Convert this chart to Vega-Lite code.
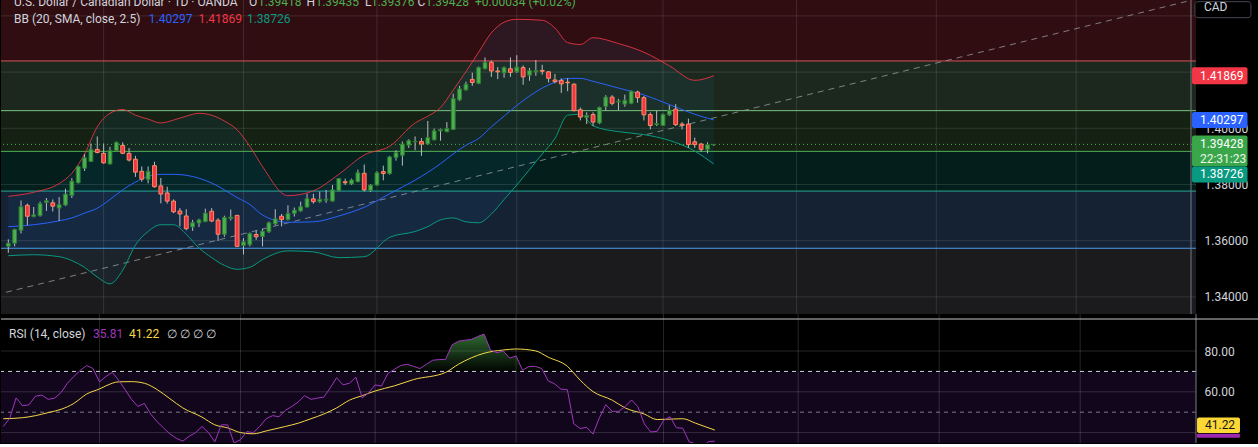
{
  "$schema": "https://vega.github.io/schema/vega-lite/v6.json",
  "background": "#000000",
  "padding": {"top": -5, "left": 0, "right": 0, "bottom": 0},
  "data": {"values": [{}]},
  "datasets": {
    "candles": [
      {"i":0,"o":1.3580,"h":1.3605,"l":1.3557,"c":1.3591,"rsi":43},
      {"i":1,"o":1.3591,"h":1.3643,"l":1.3580,"c":1.3640,"rsi":47},
      {"i":2,"o":1.3637,"h":1.3743,"l":1.3626,"c":1.3721,"rsi":57},
      {"i":3,"o":1.3726,"h":1.3732,"l":1.3655,"c":1.3687,"rsi":53.2},
      {"i":4,"o":1.3686,"h":1.3720,"l":1.3683,"c":1.3692,"rsi":53.6},
      {"i":5,"o":1.3689,"h":1.3739,"l":1.3686,"c":1.3732,"rsi":57.8},
      {"i":6,"o":1.3736,"h":1.3752,"l":1.3706,"c":1.3742,"rsi":58.4},
      {"i":7,"o":1.3735,"h":1.3747,"l":1.3704,"c":1.3723,"rsi":56.3},
      {"i":8,"o":1.3716,"h":1.3755,"l":1.3670,"c":1.3729,"rsi":56.9},
      {"i":9,"o":1.3727,"h":1.3785,"l":1.3723,"c":1.3766,"rsi":59.6},
      {"i":10,"o":1.3761,"h":1.3823,"l":1.3752,"c":1.3812,"rsi":64.2},
      {"i":11,"o":1.3806,"h":1.3867,"l":1.3804,"c":1.3864,"rsi":67.5},
      {"i":12,"o":1.3858,"h":1.3908,"l":1.3848,"c":1.3895,"rsi":70.5},
      {"i":13,"o":1.3882,"h":1.3946,"l":1.3881,"c":1.3925,"rsi":72.9},
      {"i":14,"o":1.3925,"h":1.3971,"l":1.3911,"c":1.3914,"rsi":71.4},
      {"i":15,"o":1.3911,"h":1.3946,"l":1.3875,"c":1.3877,"rsi":64.9},
      {"i":16,"o":1.3873,"h":1.3934,"l":1.3872,"c":1.3921,"rsi":67.5},
      {"i":17,"o":1.3921,"h":1.3953,"l":1.3919,"c":1.3950,"rsi":69.5},
      {"i":18,"o":1.3939,"h":1.3950,"l":1.3908,"c":1.3911,"rsi":65.7},
      {"i":19,"o":1.3911,"h":1.3930,"l":1.3882,"c":1.3887,"rsi":61.1},
      {"i":20,"o":1.3890,"h":1.3902,"l":1.3827,"c":1.3844,"rsi":56.3},
      {"i":21,"o":1.3847,"h":1.3864,"l":1.3810,"c":1.3819,"rsi":52.8},
      {"i":22,"o":1.3818,"h":1.3864,"l":1.3804,"c":1.3847,"rsi":54.3},
      {"i":23,"o":1.3867,"h":1.3881,"l":1.3789,"c":1.3792,"rsi":49.1},
      {"i":24,"o":1.3795,"h":1.3823,"l":1.3733,"c":1.3766,"rsi":45.3},
      {"i":25,"o":1.3770,"h":1.3792,"l":1.3732,"c":1.3741,"rsi":42.3},
      {"i":26,"o":1.3741,"h":1.3747,"l":1.3698,"c":1.3703,"rsi":39.3},
      {"i":27,"o":1.3706,"h":1.3716,"l":1.3651,"c":1.3695,"rsi":37.2},
      {"i":28,"o":1.3688,"h":1.3712,"l":1.3637,"c":1.3643,"rsi":35.8},
      {"i":29,"o":1.3649,"h":1.3674,"l":1.3635,"c":1.3664,"rsi":38.2},
      {"i":30,"o":1.3663,"h":1.3678,"l":1.3649,"c":1.3674,"rsi":40},
      {"i":31,"o":1.3668,"h":1.3714,"l":1.3666,"c":1.3698,"rsi":43},
      {"i":32,"o":1.3705,"h":1.3716,"l":1.3666,"c":1.3670,"rsi":40},
      {"i":33,"o":1.3673,"h":1.3680,"l":1.3599,"c":1.3623,"rsi":35.5},
      {"i":34,"o":1.3623,"h":1.3689,"l":1.3614,"c":1.3683,"rsi":43.8},
      {"i":35,"o":1.3679,"h":1.3711,"l":1.3672,"c":1.3684,"rsi":43.8},
      {"i":36,"o":1.3690,"h":1.3692,"l":1.3578,"c":1.3580,"rsi":35},
      {"i":37,"o":1.3583,"h":1.3609,"l":1.3551,"c":1.3596,"rsi":36.5},
      {"i":38,"o":1.3586,"h":1.3629,"l":1.3580,"c":1.3626,"rsi":40.5},
      {"i":39,"o":1.3622,"h":1.3637,"l":1.3603,"c":1.3614,"rsi":40},
      {"i":40,"o":1.3615,"h":1.3643,"l":1.3580,"c":1.3634,"rsi":43},
      {"i":41,"o":1.3632,"h":1.3668,"l":1.3628,"c":1.3664,"rsi":46.8},
      {"i":42,"o":1.3660,"h":1.3712,"l":1.3655,"c":1.3678,"rsi":48.3},
      {"i":43,"o":1.3687,"h":1.3695,"l":1.3651,"c":1.3675,"rsi":47.8},
      {"i":44,"o":1.3675,"h":1.3726,"l":1.3672,"c":1.3697,"rsi":50.9},
      {"i":45,"o":1.3697,"h":1.3718,"l":1.3686,"c":1.3709,"rsi":52.8},
      {"i":46,"o":1.3706,"h":1.3739,"l":1.3703,"c":1.3721,"rsi":55},
      {"i":47,"o":1.3720,"h":1.3767,"l":1.3718,"c":1.3750,"rsi":58.1},
      {"i":48,"o":1.3749,"h":1.3767,"l":1.3732,"c":1.3739,"rsi":56.3},
      {"i":49,"o":1.3739,"h":1.3775,"l":1.3735,"c":1.3747,"rsi":56.9},
      {"i":50,"o":1.3744,"h":1.3781,"l":1.3735,"c":1.3748,"rsi":57.4},
      {"i":51,"o":1.3741,"h":1.3798,"l":1.3739,"c":1.3781,"rsi":61.9},
      {"i":52,"o":1.3778,"h":1.3823,"l":1.3775,"c":1.3821,"rsi":66.9},
      {"i":53,"o":1.3810,"h":1.3821,"l":1.3798,"c":1.3806,"rsi":63.4},
      {"i":54,"o":1.3802,"h":1.3821,"l":1.3798,"c":1.3816,"rsi":64.2},
      {"i":55,"o":1.3810,"h":1.3853,"l":1.3808,"c":1.3842,"rsi":67.2},
      {"i":56,"o":1.3840,"h":1.3871,"l":1.3775,"c":1.3781,"rsi":57},
      {"i":57,"o":1.3779,"h":1.3801,"l":1.3773,"c":1.3798,"rsi":59.6},
      {"i":58,"o":1.3798,"h":1.3847,"l":1.3796,"c":1.3842,"rsi":63.4},
      {"i":59,"o":1.3846,"h":1.3867,"l":1.3815,"c":1.3839,"rsi":62.8},
      {"i":60,"o":1.3839,"h":1.3902,"l":1.3835,"c":1.3898,"rsi":69},
      {"i":61,"o":1.3896,"h":1.3922,"l":1.3885,"c":1.3913,"rsi":71},
      {"i":62,"o":1.3904,"h":1.3953,"l":1.3867,"c":1.3944,"rsi":72.9},
      {"i":63,"o":1.3940,"h":1.3961,"l":1.3930,"c":1.3956,"rsi":73.5},
      {"i":64,"o":1.3952,"h":1.3971,"l":1.3922,"c":1.3954,"rsi":72.5},
      {"i":65,"o":1.3953,"h":1.3965,"l":1.3902,"c":1.3944,"rsi":71.4},
      {"i":66,"o":1.3944,"h":1.4026,"l":1.3942,"c":1.3967,"rsi":73.5},
      {"i":67,"o":1.3959,"h":1.3999,"l":1.3957,"c":1.3991,"rsi":75.5},
      {"i":68,"o":1.3991,"h":1.3999,"l":1.3956,"c":1.3996,"rsi":75.8},
      {"i":69,"o":1.3988,"h":1.4022,"l":1.3986,"c":1.3999,"rsi":75.9},
      {"i":70,"o":1.3996,"h":1.4123,"l":1.3994,"c":1.4106,"rsi":83},
      {"i":71,"o":1.4101,"h":1.4151,"l":1.4097,"c":1.4140,"rsi":84.8},
      {"i":72,"o":1.4137,"h":1.4166,"l":1.4134,"c":1.4157,"rsi":85.3},
      {"i":73,"o":1.4174,"h":1.4198,"l":1.4151,"c":1.4163,"rsi":85.6},
      {"i":74,"o":1.4160,"h":1.4220,"l":1.4157,"c":1.4216,"rsi":87.1},
      {"i":75,"o":1.4212,"h":1.4252,"l":1.4210,"c":1.4235,"rsi":88.3},
      {"i":76,"o":1.4235,"h":1.4241,"l":1.4183,"c":1.4204,"rsi":80.5},
      {"i":77,"o":1.4204,"h":1.4218,"l":1.4175,"c":1.4201,"rsi":79.2},
      {"i":78,"o":1.4197,"h":1.4220,"l":1.4180,"c":1.4216,"rsi":80},
      {"i":79,"o":1.4212,"h":1.4252,"l":1.4183,"c":1.4199,"rsi":76.5},
      {"i":80,"o":1.4201,"h":1.4260,"l":1.4197,"c":1.4218,"rsi":77.6},
      {"i":81,"o":1.4216,"h":1.4224,"l":1.4155,"c":1.4183,"rsi":70.6},
      {"i":82,"o":1.4189,"h":1.4215,"l":1.4169,"c":1.4206,"rsi":72.4},
      {"i":83,"o":1.4201,"h":1.4243,"l":1.4187,"c":1.4206,"rsi":72.5},
      {"i":84,"o":1.4206,"h":1.4226,"l":1.4191,"c":1.4203,"rsi":71.4},
      {"i":85,"o":1.4201,"h":1.4204,"l":1.4163,"c":1.4178,"rsi":65.4},
      {"i":86,"o":1.4172,"h":1.4193,"l":1.4160,"c":1.4166,"rsi":63.9},
      {"i":87,"o":1.4170,"h":1.4178,"l":1.4126,"c":1.4158,"rsi":61.3},
      {"i":88,"o":1.4164,"h":1.4178,"l":1.4132,"c":1.4162,"rsi":61},
      {"i":89,"o":1.4157,"h":1.4160,"l":1.4060,"c":1.4063,"rsi":44.3},
      {"i":90,"o":1.4066,"h":1.4074,"l":1.4028,"c":1.4040,"rsi":42},
      {"i":91,"o":1.4039,"h":1.4057,"l":1.4015,"c":1.4046,"rsi":42.6},
      {"i":92,"o":1.4049,"h":1.4057,"l":1.4008,"c":1.4022,"rsi":39.3},
      {"i":93,"o":1.4019,"h":1.4077,"l":1.4015,"c":1.4074,"rsi":47.3},
      {"i":94,"o":1.4078,"h":1.4118,"l":1.4063,"c":1.4111,"rsi":53.7},
      {"i":95,"o":1.4111,"h":1.4118,"l":1.4082,"c":1.4089,"rsi":50.4},
      {"i":96,"o":1.4094,"h":1.4105,"l":1.4065,"c":1.4097,"rsi":50.4},
      {"i":97,"o":1.4086,"h":1.4120,"l":1.4077,"c":1.4100,"rsi":52.7},
      {"i":98,"o":1.4089,"h":1.4134,"l":1.4086,"c":1.4132,"rsi":56},
      {"i":99,"o":1.4129,"h":1.4134,"l":1.4091,"c":1.4109,"rsi":52.7},
      {"i":100,"o":1.4109,"h":1.4115,"l":1.4028,"c":1.4048,"rsi":44.3},
      {"i":101,"o":1.4049,"h":1.4057,"l":1.3996,"c":1.4010,"rsi":40.3},
      {"i":102,"o":1.4013,"h":1.4063,"l":1.4008,"c":1.4017,"rsi":40.6},
      {"i":103,"o":1.4010,"h":1.4053,"l":1.4008,"c":1.4049,"rsi":45.9},
      {"i":104,"o":1.4048,"h":1.4082,"l":1.4044,"c":1.4065,"rsi":47.8},
      {"i":105,"o":1.4068,"h":1.4086,"l":1.4008,"c":1.4013,"rsi":42.4},
      {"i":106,"o":1.4015,"h":1.4022,"l":1.3996,"c":1.4011,"rsi":42.1},
      {"i":107,"o":1.4015,"h":1.4034,"l":1.3930,"c":1.3942,"rsi":35.5},
      {"i":108,"o":1.3952,"h":1.3967,"l":1.3930,"c":1.3942,"rsi":34.5},
      {"i":109,"o":1.3944,"h":1.3948,"l":1.3916,"c":1.3925,"rsi":32.5},
      {"i":110,"o":1.3925,"h":1.3950,"l":1.3911,"c":1.39418,"rsi":35.6},
      {"i":111,"o":1.39418,"h":1.39435,"l":1.39376,"c":1.39428,"rsi":35.81}
    ],
    "bb": [
      {"i":0,"up":1.37579,"mid":1.36500,"lo":1.35466},
      {"i":4,"up":1.37724,"mid":1.36569,"lo":1.35500},
      {"i":8,"up":1.38034,"mid":1.36707,"lo":1.35431},
      {"i":10,"up":1.38397,"mid":1.36810,"lo":1.35293},
      {"i":12,"up":1.39086,"mid":1.36983,"lo":1.35052},
      {"i":14,"up":1.40052,"mid":1.37155,"lo":1.34707},
      {"i":16,"up":1.40534,"mid":1.37466,"lo":1.34466},
      {"i":18,"up":1.40672,"mid":1.37810,"lo":1.34948},
      {"i":20,"up":1.40466,"mid":1.38086,"lo":1.35845},
      {"i":22,"up":1.40328,"mid":1.38293,"lo":1.36328},
      {"i":24,"up":1.40190,"mid":1.38362,"lo":1.36569},
      {"i":26,"up":1.40293,"mid":1.38362,"lo":1.36569},
      {"i":28,"up":1.40431,"mid":1.38328,"lo":1.36224},
      {"i":30,"up":1.40534,"mid":1.38224,"lo":1.35741},
      {"i":32,"up":1.40466,"mid":1.38052,"lo":1.35397},
      {"i":34,"up":1.40259,"mid":1.37810,"lo":1.35121},
      {"i":36,"up":1.39948,"mid":1.37534,"lo":1.34983},
      {"i":38,"up":1.39362,"mid":1.37293,"lo":1.35052},
      {"i":40,"up":1.38638,"mid":1.36914,"lo":1.35328},
      {"i":44,"up":1.37603,"mid":1.36655,"lo":1.35638},
      {"i":48,"up":1.37776,"mid":1.36672,"lo":1.35603},
      {"i":52,"up":1.38362,"mid":1.36879,"lo":1.35397},
      {"i":56,"up":1.39052,"mid":1.37190,"lo":1.35431},
      {"i":60,"up":1.39362,"mid":1.37672,"lo":1.36121},
      {"i":64,"up":1.40190,"mid":1.38155,"lo":1.36328},
      {"i":66,"up":1.40431,"mid":1.38431,"lo":1.36500},
      {"i":68,"up":1.40741,"mid":1.38741,"lo":1.36741},
      {"i":70,"up":1.41362,"mid":1.39086,"lo":1.36810},
      {"i":72,"up":1.42017,"mid":1.39397,"lo":1.36672},
      {"i":74,"up":1.42707,"mid":1.39638,"lo":1.36638},
      {"i":76,"up":1.43397,"mid":1.40052,"lo":1.36948},
      {"i":78,"up":1.43776,"mid":1.40431,"lo":1.37466},
      {"i":80,"up":1.43879,"mid":1.40810,"lo":1.37983},
      {"i":84,"up":1.43845,"mid":1.41431,"lo":1.39086},
      {"i":86,"up":1.43569,"mid":1.41638,"lo":1.39638},
      {"i":88,"up":1.43052,"mid":1.41776,"lo":1.40466},
      {"i":90,"up":1.42983,"mid":1.41776,"lo":1.40500},
      {"i":92,"up":1.43224,"mid":1.41672,"lo":1.40086},
      {"i":96,"up":1.43017,"mid":1.41431,"lo":1.39879},
      {"i":100,"up":1.42707,"mid":1.41190,"lo":1.39776},
      {"i":104,"up":1.42224,"mid":1.40845,"lo":1.39569},
      {"i":108,"up":1.41707,"mid":1.40500,"lo":1.39190},
      {"i":111,"up":1.41869,"mid":1.40297,"lo":1.38726}
    ],
    "rsima": [
      {"i":0,"ma":46.8},{"i":3,"ma":47.3},{"i":5,"ma":48.3},{"i":7,"ma":49.8},{"i":9,"ma":51.4},
      {"i":11,"ma":54.3},{"i":13,"ma":58.9},{"i":15,"ma":61.4},{"i":16,"ma":62.9},{"i":18,"ma":64.9},
      {"i":20,"ma":65.0},{"i":22,"ma":64.2},{"i":24,"ma":61.1},{"i":26,"ma":56.6},{"i":28,"ma":52.1},
      {"i":31,"ma":47.6},{"i":33,"ma":43.8},{"i":35,"ma":42.3},{"i":37,"ma":40},{"i":39,"ma":39.4},
      {"i":41,"ma":40.8},{"i":44,"ma":43},{"i":46,"ma":44.6},{"i":48,"ma":46.8},{"i":50,"ma":49.1},
      {"i":52,"ma":52.1},{"i":54,"ma":55.9},{"i":56,"ma":58.1},{"i":58,"ma":60.4},{"i":61,"ma":62.9},
      {"i":64,"ma":66},{"i":69,"ma":69.5},{"i":71,"ma":73.5},{"i":75,"ma":78.9},{"i":78,"ma":80.5},
      {"i":80,"ma":81},{"i":83,"ma":80.1},{"i":85,"ma":77},{"i":88,"ma":72.5},{"i":90,"ma":65.7},
      {"i":92,"ma":60.1},{"i":95,"ma":55.9},{"i":97,"ma":52.1},{"i":100,"ma":49.1},{"i":102,"ma":46.4},
      {"i":106,"ma":46.8},{"i":108,"ma":44.6},{"i":111,"ma":41.22}
    ],
    "zones": [
      {"zone":"z1","lo":1.42397,"hi":1.47},
      {"zone":"z2","lo":1.40628,"hi":1.42397},
      {"zone":"z3","lo":1.39179,"hi":1.40628},
      {"zone":"z4","lo":1.37766,"hi":1.39179},
      {"zone":"z5","lo":1.35731,"hi":1.37766},
      {"zone":"z6","lo":1.30,"hi":1.35731}
    ],
    "last": [
      {"name":"BB upper","value":1.41869},
      {"name":"BB basis","value":1.40297},
      {"name":"close","value":1.39428},
      {"name":"BB lower","value":1.38726},
      {"name":"RSI MA","value":41.22},
      {"name":"RSI","value":35.81}
    ],
    "trend": [{"i":-0.36,"p":1.34165},{"i":186.07,"p":1.44554}],
    "pgrid": [{"p":1.34},{"p":1.36},{"p":1.38},{"p":1.40},{"p":1.42},{"p":1.44}],
    "rgrid": [{"v":40},{"v":60},{"v":80}],
    "months": [{"i":15},{"i":37},{"i":58},{"i":80},{"i":103},{"i":124},{"i":146},{"i":168}]
  },
  "config": {
    "view": {"stroke": null},
    "axis": {"labelFont": "Roboto", "labelFontSize": 12, "labelColor": "#d1d4dc", "grid": false, "ticks": false, "domain": false, "labelPadding": 8},
    "text": {"font": "Roboto"}
  },
  "spacing": 0,
  "bounds": "flush",
  "vconcat": [
    {
      "width": 1195,
      "height": 318,
      "layer": [
        {
          "data": {"name": "zones"},
          "mark": {"type": "rect", "clip": true},
          "encoding": {
            "y": {"field": "hi", "type": "quantitative", "title": null, "scale": {"domain": [1.3357, 1.4453], "zero": false, "nice": false},
                  "axis": {"values": [1.34, 1.36, 1.38, 1.40], "format": ".5f", "orient": "right", "title": null}},
            "y2": {"field": "lo"},
            "fill": {"field": "zone", "type": "nominal", "legend": null,
                     "scale": {"domain": ["z1","z2","z3","z4","z5","z6"], "range": ["#2f0d11","#1c281d","#142113","#041f1b","#152233","#1b1b1d"]}}
          }
        },
        {
          "data": {"name": "bb"},
          "mark": {"type": "area", "color": "#2196f3", "opacity": 0.07, "interpolate": "monotone"},
          "encoding": {
            "x": {"field": "i", "type": "quantitative", "axis": null, "scale": {"domain": [-0.36, 186.07], "zero": false, "nice": false}},
            "y": {"field": "up", "type": "quantitative", "title": null},
            "y2": {"field": "lo"}
          }
        },
        {
          "data": {"name": "pgrid"},
          "mark": {"type": "rule", "color": "#ffffff", "opacity": 0.11, "strokeWidth": 1},
          "encoding": {"y": {"field": "p", "type": "quantitative", "title": null}}
        },
        {
          "data": {"name": "months"},
          "mark": {"type": "rule", "color": "#ffffff", "opacity": 0.11, "strokeWidth": 1},
          "encoding": {"x": {"field": "i", "type": "quantitative", "axis": null}}
        },
        {
          "data": {"name": "zones"},
          "transform": [{"filter": "datum.zone != 'z6'"}],
          "mark": {"type": "rule", "strokeWidth": 1},
          "encoding": {
            "y": {"field": "lo", "type": "quantitative", "title": null},
            "stroke": {"field": "zone", "type": "nominal", "legend": null,
                       "scale": {"domain": ["z1","z2","z3","z4","z5"], "range": ["#d9525b","#7cc47f","#4fb153","#26a69a","#4a9de8"]}}
          }
        },
        {
          "data": {"name": "trend"},
          "mark": {"type": "line", "color": "#9598a1", "strokeDash": [6, 5], "strokeWidth": 1, "opacity": 0.8, "clip": true},
          "encoding": {
            "x": {"field": "i", "type": "quantitative", "axis": null},
            "y": {"field": "p", "type": "quantitative", "title": null}
          }
        },
        {
          "data": {"name": "last"},
          "transform": [{"filter": "datum.name == 'close'"}],
          "mark": {"type": "rule", "color": "#4caf50", "strokeDash": [1, 3], "strokeWidth": 1},
          "encoding": {"y": {"field": "value", "type": "quantitative", "title": null}}
        },
        {
          "data": {"name": "bb"},
          "mark": {"type": "line", "color": "#f23645", "strokeWidth": 1, "interpolate": "monotone", "opacity": 0.85},
          "encoding": {
            "x": {"field": "i", "type": "quantitative", "axis": null},
            "y": {"field": "up", "type": "quantitative", "title": null}
          }
        },
        {
          "data": {"name": "bb"},
          "mark": {"type": "line", "color": "#2962ff", "strokeWidth": 1, "interpolate": "monotone"},
          "encoding": {
            "x": {"field": "i", "type": "quantitative", "axis": null},
            "y": {"field": "mid", "type": "quantitative", "title": null}
          }
        },
        {
          "data": {"name": "bb"},
          "mark": {"type": "line", "color": "#089981", "strokeWidth": 1, "interpolate": "monotone"},
          "encoding": {
            "x": {"field": "i", "type": "quantitative", "axis": null},
            "y": {"field": "lo", "type": "quantitative", "title": null}
          }
        },
        {
          "data": {"name": "candles"},
          "mark": {"type": "rule", "color": "#b8bcc4", "strokeWidth": 1},
          "encoding": {
            "x": {"field": "i", "type": "quantitative", "axis": null},
            "y": {"field": "l", "type": "quantitative", "title": null},
            "y2": {"field": "h"}
          }
        },
        {
          "data": {"name": "candles"},
          "mark": {"type": "bar", "width": 3.8, "strokeWidth": 1},
          "encoding": {
            "x": {"field": "i", "type": "quantitative", "axis": null},
            "y": {"field": "o", "type": "quantitative", "title": null},
            "y2": {"field": "c"},
            "fill": {"condition": {"test": "datum.c >= datum.o", "value": "#4caf50"}, "value": "#f23645"},
            "stroke": {"condition": {"test": "datum.c >= datum.o", "value": "#2e7d32"}, "value": "#ff8a65"}
          }
        },
        {
          "mark": {"type": "rule", "color": "#787b86", "strokeWidth": 1},
          "encoding": {"x": {"datum": 186.07, "axis": null}}
        },
        {
          "mark": {"type": "text", "text": "U.S. Dollar / Canadian Dollar · 1D · OANDA", "align": "left", "baseline": "alphabetic", "fontSize": 12, "color": "#d1d4dc", "clip": true},
          "encoding": {"x": {"datum": 0.89, "axis": null}, "y": {"datum": 1.44358, "title": null}}
        },
        {
          "mark": {"type": "text", "text": "O", "align": "left", "baseline": "alphabetic", "fontSize": 12, "color": "#d1d4dc", "clip": true},
          "encoding": {"x": {"datum": 37.86, "axis": null}, "y": {"datum": 1.44358, "title": null}}
        },
        {
          "mark": {"type": "text", "text": "1.39418", "align": "left", "baseline": "alphabetic", "fontSize": 12, "color": "#4caf50", "clip": true},
          "encoding": {"x": {"datum": 39.27, "axis": null}, "y": {"datum": 1.44358, "title": null}}
        },
        {
          "mark": {"type": "text", "text": "H", "align": "left", "baseline": "alphabetic", "fontSize": 12, "color": "#d1d4dc", "clip": true},
          "encoding": {"x": {"datum": 46.91, "axis": null}, "y": {"datum": 1.44358, "title": null}}
        },
        {
          "mark": {"type": "text", "text": "1.39435", "align": "left", "baseline": "alphabetic", "fontSize": 12, "color": "#4caf50", "clip": true},
          "encoding": {"x": {"datum": 48.32, "axis": null}, "y": {"datum": 1.44358, "title": null}}
        },
        {
          "mark": {"type": "text", "text": "L", "align": "left", "baseline": "alphabetic", "fontSize": 12, "color": "#d1d4dc", "clip": true},
          "encoding": {"x": {"datum": 56.11, "axis": null}, "y": {"datum": 1.44358, "title": null}}
        },
        {
          "mark": {"type": "text", "text": "1.39376", "align": "left", "baseline": "alphabetic", "fontSize": 12, "color": "#4caf50", "clip": true},
          "encoding": {"x": {"datum": 57.05, "axis": null}, "y": {"datum": 1.44358, "title": null}}
        },
        {
          "mark": {"type": "text", "text": "C", "align": "left", "baseline": "alphabetic", "fontSize": 12, "color": "#d1d4dc", "clip": true},
          "encoding": {"x": {"datum": 64.38, "axis": null}, "y": {"datum": 1.44358, "title": null}}
        },
        {
          "mark": {"type": "text", "text": "1.39428", "align": "left", "baseline": "alphabetic", "fontSize": 12, "color": "#4caf50", "clip": true},
          "encoding": {"x": {"datum": 65.63, "axis": null}, "y": {"datum": 1.44358, "title": null}}
        },
        {
          "mark": {"type": "text", "text": "+0.00034 (+0.02%)", "align": "left", "baseline": "alphabetic", "fontSize": 12, "color": "#4caf50", "clip": true},
          "encoding": {"x": {"datum": 73.43, "axis": null}, "y": {"datum": 1.44358, "title": null}}
        },
        {
          "mark": {"type": "text", "text": "BB (20, SMA, close, 2.5)", "align": "left", "baseline": "middle", "fontSize": 12, "color": "#d1d4dc"},
          "encoding": {"x": {"datum": 0.89, "axis": null}, "y": {"datum": 1.43899, "title": null}}
        },
        {
          "mark": {"type": "text", "text": "1.40297", "align": "left", "baseline": "middle", "fontSize": 12, "color": "#2962ff"},
          "encoding": {"x": {"datum": 22.11, "axis": null}, "y": {"datum": 1.43899, "title": null}}
        },
        {
          "mark": {"type": "text", "text": "1.41869", "align": "left", "baseline": "middle", "fontSize": 12, "color": "#f23645"},
          "encoding": {"x": {"datum": 29.91, "axis": null}, "y": {"datum": 1.43899, "title": null}}
        },
        {
          "mark": {"type": "text", "text": "1.38726", "align": "left", "baseline": "middle", "fontSize": 12, "color": "#089981"},
          "encoding": {"x": {"datum": 37.55, "axis": null}, "y": {"datum": 1.43899, "title": null}}
        },
        {
          "mark": {"type": "bar", "height": 16, "cornerRadius": 3, "fill": "#000000", "stroke": "#434651", "strokeWidth": 1},
          "encoding": {"x": {"datum": 186.69, "axis": null}, "x2": {"datum": 195.5}, "y": {"datum": 1.44222, "title": null}}
        },
        {
          "mark": {"type": "text", "text": "CAD", "align": "left", "baseline": "middle", "fontSize": 12, "color": "#d1d4dc"},
          "encoding": {"x": {"datum": 188.1, "axis": null}, "y": {"datum": 1.44323, "title": null}}
        },
        {
          "data": {"name": "last"},
          "transform": [{"filter": "datum.name == 'BB upper'"}],
          "mark": {"type": "bar", "height": 17, "cornerRadius": 2, "color": "#f23645"},
          "encoding": {"x": {"datum": 186.23, "axis": null}, "x2": {"datum": 194.96}, "y": {"field": "value", "type": "quantitative", "title": null}}
        },
        {
          "data": {"name": "last"},
          "transform": [{"filter": "datum.name == 'BB basis'"}],
          "mark": {"type": "bar", "height": 16, "cornerRadius": 2, "color": "#2962ff"},
          "encoding": {"x": {"datum": 186.23, "axis": null}, "x2": {"datum": 194.96}, "y": {"field": "value", "type": "quantitative", "title": null}}
        },
        {
          "data": {"name": "last"},
          "transform": [{"filter": "datum.name == 'close'"}],
          "mark": {"type": "bar", "height": 31, "yOffset": 6.7, "cornerRadius": 2, "color": "#3aa64a"},
          "encoding": {"x": {"datum": 186.23, "axis": null}, "x2": {"datum": 194.96}, "y": {"field": "value", "type": "quantitative", "title": null}}
        },
        {
          "data": {"name": "last"},
          "transform": [{"filter": "datum.name == 'BB lower'"}],
          "mark": {"type": "bar", "height": 16, "yOffset": 10.3, "cornerRadius": 2, "color": "#089981"},
          "encoding": {"x": {"datum": 186.23, "axis": null}, "x2": {"datum": 194.96}, "y": {"field": "value", "type": "quantitative", "title": null}}
        },
        {
          "data": {"name": "last"},
          "transform": [{"filter": "datum.name == 'BB upper' || datum.name == 'BB basis' || datum.name == 'close'"}],
          "mark": {"type": "text", "align": "left", "baseline": "middle", "fontSize": 12, "color": "#ffffff"},
          "encoding": {"x": {"datum": 187.47, "axis": null}, "y": {"field": "value", "type": "quantitative", "title": null},
                       "text": {"field": "value", "type": "quantitative", "format": ".5f"}}
        },
        {
          "data": {"name": "last"},
          "transform": [{"filter": "datum.name == 'close'"}],
          "mark": {"type": "text", "text": "22:31:23", "align": "left", "baseline": "middle", "fontSize": 12, "yOffset": 14.5, "color": "#e8f5e9"},
          "encoding": {"x": {"datum": 187.47, "axis": null}, "y": {"field": "value", "type": "quantitative", "title": null}}
        },
        {
          "data": {"name": "last"},
          "transform": [{"filter": "datum.name == 'BB lower'"}],
          "mark": {"type": "text", "align": "left", "baseline": "middle", "fontSize": 12, "yOffset": 10.3, "color": "#ffffff"},
          "encoding": {"x": {"datum": 187.47, "axis": null}, "y": {"field": "value", "type": "quantitative", "title": null},
                       "text": {"field": "value", "type": "quantitative", "format": ".5f"}}
        }
      ]
    },
    {
      "width": 1195,
      "height": 129,
      "layer": [
        {
          "mark": {"type": "rect", "color": "#12061d", "clip": true},
          "encoding": {
            "y": {"datum": 70, "type": "quantitative", "title": null, "scale": {"domain": [37.35, 95.7], "zero": false, "nice": false},
                  "axis": {"values": [60, 80], "format": ".2f", "orient": "right", "title": null}},
            "y2": {"datum": 30}
          }
        },
        {
          "data": {"name": "rgrid"},
          "mark": {"type": "rule", "color": "#ffffff", "opacity": 0.15, "strokeWidth": 1},
          "encoding": {"y": {"field": "v", "type": "quantitative", "title": null}}
        },
        {
          "data": {"name": "months"},
          "mark": {"type": "rule", "color": "#ffffff", "opacity": 0.15, "strokeWidth": 1},
          "encoding": {"x": {"field": "i", "type": "quantitative", "axis": null, "scale": {"domain": [-0.36, 186.07], "zero": false, "nice": false}}}
        },
        {
          "mark": {"type": "rule", "color": "#d1d4dc", "strokeDash": [4, 4], "strokeWidth": 1},
          "encoding": {"y": {"datum": 70, "title": null}}
        },
        {
          "mark": {"type": "rule", "color": "#787b86", "strokeDash": [4, 4], "strokeWidth": 1},
          "encoding": {"y": {"datum": 50, "title": null}}
        },
        {
          "data": {"name": "candles"},
          "transform": [{"filter": "datum.i >= 61 && datum.i <= 84"}],
          "mark": {"type": "area", "color": {"gradient": "linear", "x1": 0, "y1": 0, "x2": 0, "y2": 1,
                   "stops": [{"offset": 0, "color": "rgba(76,175,80,0.6)"}, {"offset": 1, "color": "rgba(76,175,80,0.02)"}]}},
          "encoding": {
            "x": {"field": "i", "type": "quantitative", "axis": null},
            "y": {"field": "rsi", "type": "quantitative", "title": null},
            "y2": {"datum": 70}
          }
        },
        {
          "data": {"name": "rsima"},
          "mark": {"type": "line", "color": "#f5d845", "strokeWidth": 1, "interpolate": "monotone", "clip": true},
          "encoding": {
            "x": {"field": "i", "type": "quantitative", "axis": null},
            "y": {"field": "ma", "type": "quantitative", "title": null}
          }
        },
        {
          "data": {"name": "candles"},
          "mark": {"type": "line", "color": "#a035bd", "strokeWidth": 1, "clip": true},
          "encoding": {
            "x": {"field": "i", "type": "quantitative", "axis": null},
            "y": {"field": "rsi", "type": "quantitative", "title": null}
          }
        },
        {
          "mark": {"type": "rule", "color": "#787b86", "strokeWidth": 1},
          "encoding": {"x": {"datum": 186.07, "axis": null}}
        },
        {
          "mark": {"type": "rule", "color": "#c8c8c8", "strokeWidth": 1},
          "encoding": {"y": {"datum": 95.7, "title": null}, "x": {"datum": -0.36, "axis": null}, "x2": {"datum": 195.85}}
        },
        {
          "mark": {"type": "text", "text": "RSI (14, close)", "align": "left", "baseline": "middle", "fontSize": 12, "color": "#d1d4dc"},
          "encoding": {"x": {"datum": 0.89, "axis": null}, "y": {"datum": 88.46, "title": null}}
        },
        {
          "mark": {"type": "text", "text": "35.81", "align": "left", "baseline": "middle", "fontSize": 12, "color": "#a035bd"},
          "encoding": {"x": {"datum": 13.99, "axis": null}, "y": {"datum": 88.46, "title": null}}
        },
        {
          "mark": {"type": "text", "text": "41.22", "align": "left", "baseline": "middle", "fontSize": 12, "color": "#f5d845"},
          "encoding": {"x": {"datum": 19.61, "axis": null}, "y": {"datum": 88.46, "title": null}}
        },
        {
          "mark": {"type": "text", "text": "∅  ∅  ∅  ∅", "align": "left", "baseline": "middle", "fontSize": 12, "color": "#d1d4dc"},
          "encoding": {"x": {"datum": 25.54, "axis": null}, "y": {"datum": 88.46, "title": null}}
        },
        {
          "data": {"name": "last"},
          "transform": [{"filter": "datum.name == 'RSI MA'"}],
          "mark": {"type": "bar", "height": 15.5, "yOffset": -4.9, "cornerRadius": 2, "color": "#fdd835"},
          "encoding": {"x": {"datum": 186.23, "axis": null}, "x2": {"datum": 192.93}, "y": {"field": "value", "type": "quantitative", "title": null}}
        },
        {
          "data": {"name": "last"},
          "transform": [{"filter": "datum.name == 'RSI'"}],
          "mark": {"type": "bar", "height": 4, "yOffset": -5.4, "cornerRadius": 1, "color": "#9c27b0"},
          "encoding": {"x": {"datum": 186.23, "axis": null}, "x2": {"datum": 192.93}, "y": {"field": "value", "type": "quantitative", "title": null}}
        },
        {
          "data": {"name": "last"},
          "transform": [{"filter": "datum.name == 'RSI MA'"}],
          "mark": {"type": "text", "align": "left", "baseline": "middle", "fontSize": 12, "yOffset": -4.9, "color": "#131722"},
          "encoding": {"x": {"datum": 187.47, "axis": null}, "y": {"field": "value", "type": "quantitative", "title": null},
                       "text": {"field": "value", "type": "quantitative", "format": ".2f"}}
        }
      ]
    }
  ]
}
